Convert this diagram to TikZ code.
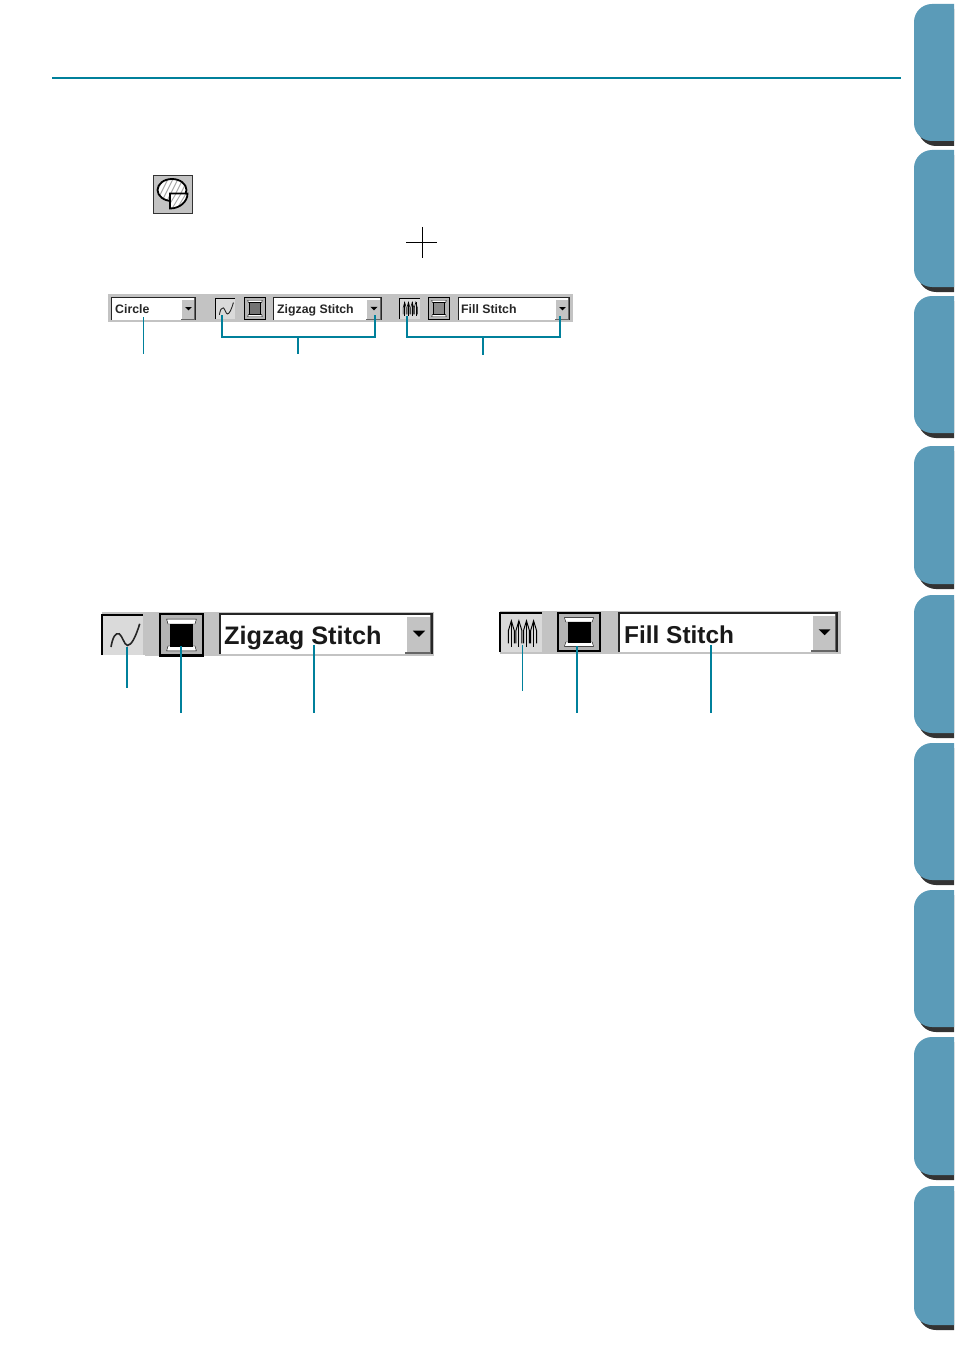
\documentclass[tikz,border=0pt]{standalone}
\usepackage{fontspec}
\setmainfont{Liberation Sans}
\definecolor{teal}{HTML}{00809B}
\definecolor{tabblue}{HTML}{5B9BB8}
\definecolor{tabdark}{HTML}{333333}
\definecolor{barg}{HTML}{C3C3C3}
\definecolor{spoolg}{HTML}{B4B4B4}
\definecolor{dith}{HTML}{DADADA}
\tikzset{
  leadthick/.style={draw=teal,line width=2pt},
  leadthin/.style={draw=teal,line width=2pt},
  leadfine/.style={draw=teal,line width=1.6pt},
  smalltxt/.style={anchor=base west,inner sep=0pt,font=\bfseries\fontsize{12.3}{14}\selectfont,text=black!85},
  bigtxt/.style={anchor=base west,inner sep=0pt,font=\bfseries\fontsize{25.3}{30}\selectfont,text=black!90},
  bigtxtb/.style={anchor=base west,inner sep=0pt,font=\bfseries\fontsize{24.4}{30}\selectfont,text=black!90},
}
\newcommand{\sidetab}[2]{%
  \fill[tabdark,rounded corners=18pt] (918,#1+5) rectangle (990,#2);
  \fill[tabblue,rounded corners=18pt] (914,#1) rectangle (990,#2-5);
}
% x1 y1 x2 y2 buttonleft linewidth
\newcommand{\combo}[6]{%
  \fill[white] (#1,#2) rectangle (#3,#4);
  \fill[barg] (#5,#2+1.5*#6) rectangle (#3-#6,#4-#6);
  \draw[white,line width=#6 pt] (#5+.5*#6,#4-1.5*#6) -- (#5+.5*#6,#2+2*#6) -- (#3-1.5*#6,#2+2*#6);
  \draw[black!60,line width=#6 pt] (#5,#4-.7*#6) -- (#3-1.5*#6,#4-.7*#6) -- (#3-1.5*#6,#2+#6);
  \draw[black!85,line width=#6 pt] (#1+.5*#6,#4) -- (#1+.5*#6,#2+.5*#6) -- (#3-.5*#6,#2+.5*#6) -- (#3-.5*#6,#4);
  \fill[black] ({.5*#5+.5*#3-.22*(#3-#5)},{.5*#2+.5*#4-.1*(#3-#5)}) -- ++({.44*(#3-#5)},0) -- ++({-.22*(#3-#5)},{.22*(#3-#5)}) -- cycle;
}
% x1 y1 x2 y2 core linewidth
\newcommand{\spoolicon}[6]{%
  \begin{scope}[shift={(#1,#2)},x={(#3-#1,0)},y={(0,#4-#2)}]
    \fill[spoolg] (0,0) rectangle (1,1);
    \draw[black,line width=#6 pt] (.02,.02) rectangle (.98,.98);
    \fill[white,draw=black,line width=.4pt] (.17,.14) -- (.83,.14) -- (.8,.25) -- (.2,.25) -- cycle;
    \fill[white,draw=black,line width=.4pt] (.17,.86) -- (.83,.86) -- (.8,.75) -- (.2,.75) -- cycle;
    \fill[#5,draw=black,line width=.8pt] (.25,.25) rectangle (.75,.75);
  \end{scope}
}
% x1 y1 x2 y2 linewidth
\newcommand{\squiggle}[5]{%
  \begin{scope}[shift={(#1,#2)},x={(#3-#1,0)},y={(0,#4-#2)}]
    \fill[dith] (0,0) rectangle (1,1);
    \draw[black,line width=#5 pt] (0,1) -- (0,0) -- (1,0);
    \draw[black!85,line width=#5 pt] (.22,.8) .. controls (.26,.55) and (.33,.44) .. (.42,.47) .. controls (.5,.52) and (.54,.75) .. (.62,.76) .. controls (.72,.76) and (.82,.55) .. (.92,.22);
  \end{scope}
}
\newcommand{\fillstitch}[5]{%
  \begin{scope}[shift={(#1,#2)},x={(#3-#1,0)},y={(0,#4-#2)}]
    \fill[dith] (0,0) rectangle (1,1);
    \draw[black,line width=#5 pt] (0,1) -- (0,0) -- (1,0);
    \foreach \vx in {.27,.45,.63,.8}{
      \draw[black,line width=.8*#5 pt] (\vx-.07,.78) -- (\vx-.07,.45) -- (\vx,.2) -- (\vx+.07,.45) -- (\vx+.07,.78);
      \draw[black,line width=.8*#5 pt] (\vx,.2) -- (\vx,.88);
    }
  \end{scope}
}
\begin{document}
\begin{tikzpicture}[x=1pt,y=-1pt]
\useasboundingbox (0,0) rectangle (954,1348);
\fill[white] (0,0) rectangle (954,1348);
\begin{scope}
  \clip (0,0) rectangle (954,1348);
  \sidetab{4}{146}
  \sidetab{150}{292}
  \sidetab{296}{438}
  \sidetab{446}{589}
  \sidetab{595}{738}
  \sidetab{743}{885}
  \sidetab{890}{1032}
  \sidetab{1037}{1180}
  \sidetab{1186}{1330}
\end{scope}
% header rule
\coordinate (ruleL) at (52,78.5);
\coordinate (ruleR) at (901,78.5);
\draw[teal,line width=2pt] (ruleL) -- (ruleR);
% pie tool icon
\fill[barg] (153.5,175.5) rectangle (192.5,213.5);
\fill[white] (172,190) ellipse [x radius=14.5,y radius=11];
\begin{scope}
  \clip (172,190) ellipse [x radius=14.5,y radius=11];
  \foreach \hx in {0,5,...,40}{\draw[black!35,line width=.9pt] (150+\hx,205) -- (165+\hx,175);}
\end{scope}
\draw[black,line width=1.8pt] (172,190) ellipse [x radius=14.5,y radius=11];
\fill[white] (170,193.5) -- (187.5,193.5) arc[start angle=0,end angle=90,x radius=17.5,y radius=15] -- cycle;
\begin{scope}
  \clip (170,193.5) -- (187.5,193.5) arc[start angle=0,end angle=90,x radius=17.5,y radius=15] -- cycle;
  \foreach \hx in {0,5,...,30}{\draw[black!35,line width=.9pt] (160+\hx,212) -- (175+\hx,187);}
\end{scope}
\draw[black,line width=1.8pt] (170,193.5) -- (187.5,193.5) arc[start angle=0,end angle=90,x radius=17.5,y radius=15] -- cycle;
\draw[black!80,line width=1.2pt] (153.5,175.5) rectangle (192.5,213.5);
% cross cursor
\coordinate (crossW) at (406,243);
\coordinate (crossE) at (437,243);
\coordinate (crossN) at (422,227);
\coordinate (crossS) at (422,258);
\draw[black,line width=1pt] (crossW) -- (crossE) (crossN) -- (crossS);
% upper toolbar
\fill[barg] (108,294) rectangle (573,322);
\combo{111}{297}{196}{320}{181}{1}
\combo{273}{297}{382}{320}{366}{1}
\combo{458}{297}{570}{320}{555}{1}
\squiggle{215}{298}{235}{319}{.9}
\spoolicon{244}{297}{266}{320}{black!55}{1.3}
\fillstitch{399}{298}{420}{319}{.7}
\spoolicon{428}{297}{450}{320}{black!45}{1.3}
\node[smalltxt] (circleT) at (115,313) {Circle};
\node[smalltxt] (zigT) at (277,313) {Zigzag Stitch};
\node[smalltxt] (fillT) at (461,313) {Fill Stitch};
% upper leaders
\coordinate (cA) at (143.5,317);
\coordinate (cB) at (143.5,354);
\draw[leadfine] (cA) -- (cB);
\coordinate (zL) at (222,315);
\coordinate (zR) at (374.5,315);
\coordinate (zM) at (298,336.5);
\coordinate (zE) at (298,354);
\draw[leadthick] (zL) |- (zM) -| (zR);
\draw[leadthick] (zM) -- (zE);
\coordinate (fL) at (407,316);
\coordinate (fR) at (559.5,316);
\coordinate (fM) at (483,337);
\coordinate (fE) at (483,355);
\draw[leadthick] (fL) |- (fM) -| (fR);
\draw[leadthick] (fM) -- (fE);
% lower left toolbar
\fill[barg] (102,612) rectangle (434,656);
\fill[white] (102,655) rectangle (145,657);
\squiggle{102}{615}{143}{655}{1.6}
\spoolicon{159}{613}{204}{657}{black}{2.4}
\fill[black] (159,653.5) rectangle (204,657);
\combo{219}{613}{433}{654}{405}{1.6}
\node[bigtxt] (zigB) at (224,644) {Zigzag Stitch};
% lower right toolbar
\fill[barg] (500,611) rectangle (841,654);
\fillstitch{500}{613}{542}{652}{1.2}
\spoolicon{557}{612}{601}{652}{black}{2.2}
\combo{618}{612}{838}{652}{811}{1.6}
\node[bigtxtb] (fillB) at (624,643) {Fill Stitch};
% lower leaders
\coordinate (a1) at (127,647); \coordinate (a2) at (127,688);
\coordinate (b1) at (181,646); \coordinate (b2) at (181,713);
\coordinate (c1) at (314,645); \coordinate (c2) at (314,713);
\coordinate (d1) at (522.5,645); \coordinate (d2) at (522.5,691);
\coordinate (e1) at (577,646); \coordinate (e2) at (577,713);
\coordinate (f1) at (711,645); \coordinate (f2) at (711,713);
\draw[leadthin] (a1) -- (a2);
\draw[leadthin] (b1) -- (b2);
\draw[leadthin] (c1) -- (c2);
\draw[leadfine] (d1) -- (d2);
\draw[leadthin] (e1) -- (e2);
\draw[leadthin] (f1) -- (f2);
\end{tikzpicture}
\end{document}
